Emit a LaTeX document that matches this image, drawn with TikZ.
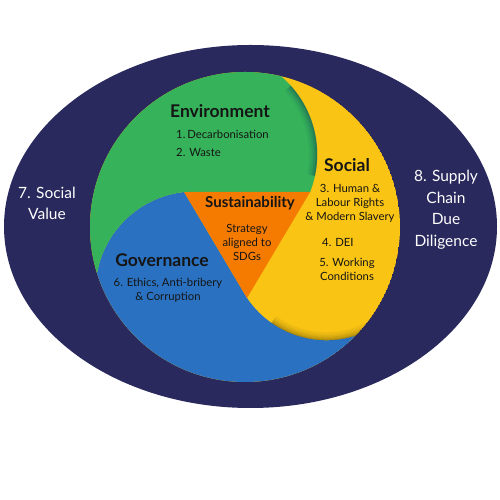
\documentclass[tikz,border=0pt]{standalone}
\usepackage{fontspec}
\setmainfont{Lato}
\usetikzlibrary{calc}
\definecolor{navy}{HTML}{29295D}
\definecolor{grn}{HTML}{35B25A}
\definecolor{yel}{HTML}{F9C414}
\definecolor{blu}{HTML}{2A72C1}
\definecolor{orng}{HTML}{F47B00}
\definecolor{ink}{HTML}{151515}
\tikzset{
  head/.style={font=\bfseries\fontsize{17.5}{20}\selectfont, text=ink, inner sep=0pt},
  subhead/.style={font=\bfseries\fontsize{15}{17}\selectfont, text=ink, inner sep=0pt},
  item/.style={font=\fontsize{11.3}{14}\selectfont, text=ink, inner sep=0pt, align=center},
  outer/.style={font=\fontsize{15.5}{21.5}\selectfont, text=white, inner sep=0pt, align=center}
}
\begin{document}
\begin{tikzpicture}[x=1pt,y=1pt]
\useasboundingbox (0,0) rectangle (500,500);
\fill[white] (0,0) rectangle (500,500);
\coordinate (C) at (245,273);
\coordinate (GC) at (214.5,345.5);
\coordinate (YC) at (326.5,255.6);
\coordinate (BC) at (195,209);
\coordinate (P3) at ($(BC)+(96.3:99.6)$);
\coordinate (P2) at ($(GC)+(-21.4:102.7)$);
\coordinate (P4) at ($(YC)+(-146:95.9)$);
\fill[navy] (250.5,273.5) ellipse[x radius=246.5, y radius=181.5];
\def\bluepath{(0,40) -- (0,200) -- ($(BC)+(185:99.6)$) arc[start angle=185,end angle=96.3,radius=99.6] -- (P4) arc[start angle=-146,end angle=-50,radius=95.9] -- (480,40) -- cycle}
\def\greenpath{(0,200) -- ($(BC)+(185:99.6)$) arc[start angle=185,end angle=96.3,radius=99.6] -- (P2) arc[start angle=-21.4,end angle=70,radius=102.7] -- (250,500) -- (0,500) -- cycle}
\begin{scope}
  \clip (C) circle[radius=155];
  \fill[yel] (C) circle[radius=155];
  \fill[blu] \bluepath;
  \begin{scope}
    \clip (YC) circle[radius=95.9];
    \foreach \w/\o in {16/0.05,11/0.06,7/0.08,3/0.12}
      \draw[line width=\w, black, opacity=\o] ($(YC)+(-125:95.9)$) arc[start angle=-125,end angle=-45,radius=95.9];
  \end{scope}
  \fill[grn] \greenpath;
  \begin{scope}
    \clip (GC) circle[radius=102.7];
    \foreach \w/\o in {16/0.05,11/0.07,7/0.09,3/0.12}
      \draw[line width=\w, black!70!blue, opacity=\o] ($(GC)+(-12:102.7)$) arc[start angle=-12,end angle=42,radius=102.7];
  \end{scope}
  \fill[orng] (P3) -- (P2) -- (P4) -- cycle;
\end{scope}
\node[head] (env) at (220,389) {Environment};
\node[item, anchor=west] (dec) at (176,366) {1.\,Decarbonisation};
\node[item, anchor=west] (was) at (176,348) {2. Waste};
\node[head] (soc) at (347,335) {Social};
\node[item] (hum) at (350,297) {3. Human \&\\Labour Rights\\\& Modern Slavery};
\node[item, anchor=west] (dei) at (322,258) {4. DEI};
\node[item] (wor) at (347,231) {5. Working\\Conditions};
\node[subhead] (sus) at (250,297) {Sustainability};
\node[item] (str) at (247,258) {Strategy\\aligned to\\SDGs};
\node[head] (gov) at (162,240) {Governance};
\node[item] (eth) at (168,210) {6. Ethics, Anti-bribery\\\& Corruption};
\node[outer] (sv) at (47,296.5) {7. Social\\Value};
\node[outer] (sc) at (446,290.5) {8. Supply\\Chain\\Due\\Diligence};
\end{tikzpicture}
\end{document}
